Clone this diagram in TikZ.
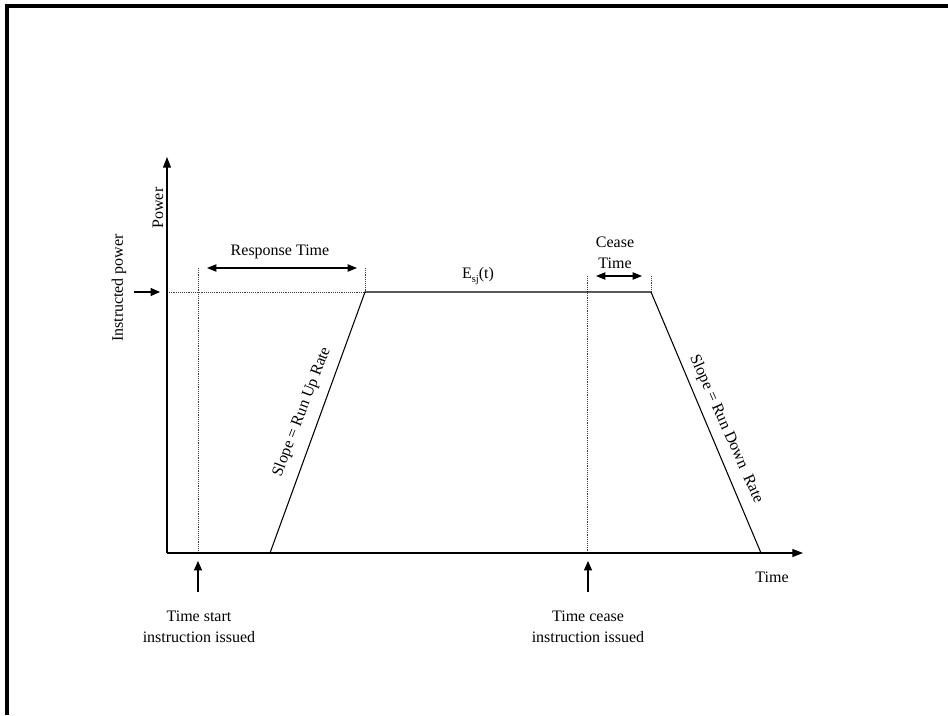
\documentclass[tikz,border=0pt]{standalone}
\usepackage{fontspec}
\setmainfont{Liberation Serif}
\usetikzlibrary{arrows.meta}
\begin{document}
\begin{tikzpicture}[x=0.75pt,y=-0.75pt,
  lbl/.style={font=\fontsize{12}{15.5}\selectfont, inner sep=0pt, align=center},
  axis/.style={line width=0.8pt, -{Triangle[length=8pt,width=6pt]}},
  guide/.style={densely dotted, line width=0.4pt, black!75},
  curve/.style={line width=0.8pt},
  harrow/.style={line width=0.8pt, {Triangle[length=7pt,width=5.5pt]}-{Triangle[length=7pt,width=5.5pt]}},
  uparrow/.style={line width=0.8pt, -{Triangle[length=7pt,width=6pt]}},
  frameline/.style={line width=2.3pt}]
\useasboundingbox (0,0) rectangle (948,715);
% frame
\coordinate (fbl) at (7,715);
\coordinate (ftl) at (7,6);
\coordinate (ftr) at (948,6);
\draw[frameline] (fbl) -- (ftl) -- (ftr);

% key points
\coordinate (O) at (167,553);
\coordinate (Ytop) at (167,157);
\coordinate (Xend) at (803,553);
\coordinate (P0) at (167,292);
\coordinate (A) at (270,553);
\coordinate (B) at (365,292);
\coordinate (C) at (651,292);
\coordinate (D) at (761,553);
\coordinate (S) at (198,553);
\coordinate (Stop) at (198,268);
\coordinate (E) at (587,553);
\coordinate (Etop) at (587,276);
\coordinate (Btop) at (365,268);
\coordinate (Ctop) at (651,276);

% guides
\draw[guide] (P0) -- (B);
\draw[guide] (Stop) -- (S);
\draw[guide] (Etop) -- (E);
\draw[guide] (Btop) -- (B);
\draw[guide] (Ctop) -- (C);

% axes
\draw[axis] (O) -- (Ytop);
\draw[axis] (O) -- (Xend);

% power profile
\draw[curve] (A) -- (B) -- (C) -- (D);

% interval arrows
\coordinate (r1) at (207,268);
\coordinate (r2) at (357,268);
\draw[harrow] (r1) -- (r2);
\coordinate (c1) at (596,276);
\coordinate (c2) at (642,276);
\draw[harrow] (c1) -- (c2);

% instructed power arrow
\coordinate (ip1) at (134,292);
\coordinate (ip2) at (160,292);
\draw[uparrow] (ip1) -- (ip2);

% instruction arrows
\coordinate (s1) at (198,592);
\coordinate (s2) at (198,561);
\draw[uparrow] (s1) -- (s2);
\coordinate (e1) at (588,592);
\coordinate (e2) at (588,561);
\draw[uparrow] (e1) -- (e2);

% labels
\node[lbl, rotate=90] (lpower) at (158,208) {Power};
\node[lbl, rotate=90] (linstr) at (119,288) {Instructed power};
\node[lbl] (lresp) at (280,252) {Response Time};
\node[lbl] (lcease) at (615,253) {Cease\\Time};
\node[lbl] (lesj) at (478,276) {E\raisebox{-0.45ex}{\fontsize{8}{9}\selectfont sj}(t)};
\node[lbl] (ltime) at (772,577) {Time};
\node[lbl] (lstart) at (199,627) {Time start\\instruction issued};
\node[lbl] (lstop) at (588,627) {Time cease\\instruction issued};
\node[lbl, rotate=69] (lup) at (302,412) {Slope = Run Up Rate};
\node[lbl, rotate=-66] (ldown) at (726,429) {Slope = Run Down\ \ Rate};
\end{tikzpicture}
\end{document}
